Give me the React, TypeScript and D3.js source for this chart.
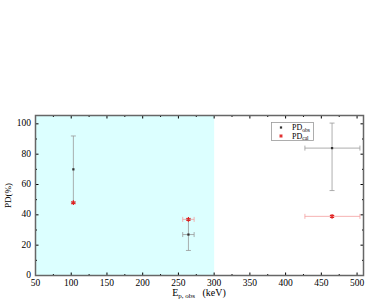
import React, { useEffect, useRef } from "react";
import * as d3 from "d3";

// energies (keV), PD values (%) and error ranges
const energies = [103, 264, 465];
const pdObs = [70, 27, 84];
const pdObsLow = [48, 16.5, 56];
const pdObsHigh = [92, 37, 100.5];
const pdCal = [48, 37, 39];
const xErrLow = [103, 256, 427];
const xErrHigh = [103, 272, 504];
const xTicks = [50, 100, 150, 200, 250, 300, 350, 400, 450, 500];
const yTicks = [0, 20, 40, 60, 80, 100];
const shadeRange = [50, 300];

function App() {
  const ref = useRef<SVGSVGElement>(null);

  useEffect(() => {
    const width = 382;
    const height = 299;
    const left = 35.5, right = 363.5, top = 115.5, bottom = 275.5;
    const font = "'Liberation Serif', 'Times New Roman', serif";

    const svg = d3.select(ref.current);
    svg.selectAll("*").remove();

    const x = d3.scaleLinear([50, 509], [left, right]);
    const y = d3.scaleLinear([0, 105.5], [bottom, top]);

    // shaded region
    svg.append("rect")
      .attr("x", x(shadeRange[0]))
      .attr("y", top)
      .attr("width", x(shadeRange[1]) - x(shadeRange[0]))
      .attr("height", bottom - top)
      .attr("fill", "#dcffff");

    // ticks (inward, on all four sides)
    const tg = svg.append("g").attr("stroke", "#000").attr("stroke-width", 1);
    const xMinor = d3.range(75, 509, 50);
    xTicks.forEach(v => {
      tg.append("line").attr("x1", x(v)).attr("x2", x(v)).attr("y1", bottom).attr("y2", bottom - 3);
      tg.append("line").attr("x1", x(v)).attr("x2", x(v)).attr("y1", top).attr("y2", top + 3);
    });
    xMinor.forEach(v => {
      tg.append("line").attr("x1", x(v)).attr("x2", x(v)).attr("y1", bottom).attr("y2", bottom - 1.5);
      tg.append("line").attr("x1", x(v)).attr("x2", x(v)).attr("y1", top).attr("y2", top + 1.5);
    });
    const yMinor = d3.range(10, 105, 20);
    yTicks.forEach(v => {
      tg.append("line").attr("x1", left).attr("x2", left + 3).attr("y1", y(v)).attr("y2", y(v));
      tg.append("line").attr("x1", right).attr("x2", right - 3).attr("y1", y(v)).attr("y2", y(v));
    });
    yMinor.forEach(v => {
      tg.append("line").attr("x1", left).attr("x2", left + 1.5).attr("y1", y(v)).attr("y2", y(v));
      tg.append("line").attr("x1", right).attr("x2", right - 1.5).attr("y1", y(v)).attr("y2", y(v));
    });

    // frame
    svg.append("rect")
      .attr("x", left).attr("y", top)
      .attr("width", right - left).attr("height", bottom - top)
      .attr("fill", "none").attr("stroke", "#666").attr("stroke-width", 1.5);

    // tick labels
    svg.append("g").selectAll("text").data(xTicks).join("text")
      .attr("x", d => x(d)).attr("y", bottom + 10)
      .attr("text-anchor", "middle")
      .attr("font-family", font).attr("font-size", 9.5)
      .text(d => d);
    svg.append("g").selectAll("text").data(yTicks).join("text")
      .attr("x", left - 4.5).attr("y", d => y(d) + 2.5)
      .attr("text-anchor", "end")
      .attr("font-family", font).attr("font-size", 9.5)
      .text(d => d);

    // axis titles
    const xl = svg.append("text")
      .attr("x", 199).attr("y", 296)
      .attr("text-anchor", "middle")
      .attr("font-family", font).attr("font-size", 10);
    xl.append("tspan").text("E");
    xl.append("tspan").attr("font-size", 7).attr("dy", 2).text("p, obs");
    xl.append("tspan").attr("dy", -2).text("\u00a0\u00a0\u00a0(keV)");

    svg.append("text")
      .attr("transform", `translate(11,${(top + bottom) / 2}) rotate(-90)`)
      .attr("text-anchor", "middle")
      .attr("font-family", font).attr("font-size", 9)
      .text("PD(%)");

    // error bars
    const cap = 2.5;
    const eb = svg.append("g").attr("stroke-width", 0.8);
    energies.forEach((e, i) => {
      // calculated (red)
      const cy = y(pdCal[i]);
      if (xErrHigh[i] > xErrLow[i]) {
        eb.append("line").attr("stroke", "#f4a0a0")
          .attr("x1", x(xErrLow[i])).attr("x2", x(xErrHigh[i])).attr("y1", cy).attr("y2", cy);
        [xErrLow[i], xErrHigh[i]].forEach(v =>
          eb.append("line").attr("stroke", "#f4a0a0")
            .attr("x1", x(v)).attr("x2", x(v)).attr("y1", cy - cap).attr("y2", cy + cap));
      }
      // observed (gray)
      const oy = y(pdObs[i]);
      const ox = x(e);
      eb.append("line").attr("stroke", "#999")
        .attr("x1", ox).attr("x2", ox).attr("y1", y(pdObsLow[i])).attr("y2", y(pdObsHigh[i]));
      [pdObsLow[i], pdObsHigh[i]].forEach(v =>
        eb.append("line").attr("stroke", "#999")
          .attr("x1", ox - cap).attr("x2", ox + cap).attr("y1", y(v)).attr("y2", y(v)));
      if (xErrHigh[i] > xErrLow[i]) {
        eb.append("line").attr("stroke", "#999")
          .attr("x1", x(xErrLow[i])).attr("x2", x(xErrHigh[i])).attr("y1", oy).attr("y2", oy);
        [xErrLow[i], xErrHigh[i]].forEach(v =>
          eb.append("line").attr("stroke", "#999")
            .attr("x1", x(v)).attr("x2", x(v)).attr("y1", oy - cap).attr("y2", oy + cap));
      }
    });

    // markers
    const star = d3.symbol(d3.symbolAsterisk, 16);
    const sq = d3.symbol(d3.symbolSquare, 5);
    svg.append("g").selectAll("path").data(energies).join("path")
      .attr("transform", (d, i) => `translate(${x(d)},${y(pdCal[i])})`)
      .attr("d", star)
      .attr("stroke", "#e02020").attr("stroke-width", 1.2).attr("fill", "none");
    svg.append("g").selectAll("path").data(energies).join("path")
      .attr("transform", (d, i) => `translate(${x(d)},${y(pdObs[i])})`)
      .attr("d", sq)
      .attr("fill", "#333");

    // legend
    const lg = svg.append("g");
    lg.append("rect")
      .attr("x", 271.5).attr("y", 122.5).attr("width", 42).attr("height", 18)
      .attr("fill", "#fff").attr("stroke", "#999").attr("stroke-width", 0.8);
    lg.append("path").attr("transform", "translate(281,127.5)").attr("d", sq).attr("fill", "#333");
    lg.append("path").attr("transform", "translate(281,136)").attr("d", d3.symbol(d3.symbolAsterisk, 10))
      .attr("stroke", "#e02020").attr("stroke-width", 1).attr("fill", "none");
    const t1 = lg.append("text").attr("x", 292).attr("y", 130)
      .attr("font-family", font).attr("font-size", 8);
    t1.append("tspan").text("PD");
    t1.append("tspan").attr("font-size", 5.5).attr("dy", 1.5).text("obs");
    const t2 = lg.append("text").attr("x", 292).attr("y", 138.5)
      .attr("font-family", font).attr("font-size", 8);
    t2.append("tspan").text("PD");
    t2.append("tspan").attr("font-size", 5.5).attr("dy", 1.5).text("cal");

    svg.attr("width", width).attr("height", height);
  }, []);

  return (
    <svg ref={ref} width={382} height={299}
      style={{ position: "absolute", left: 0, top: 0, background: "#fff" }} />
  );
}

export default App;
